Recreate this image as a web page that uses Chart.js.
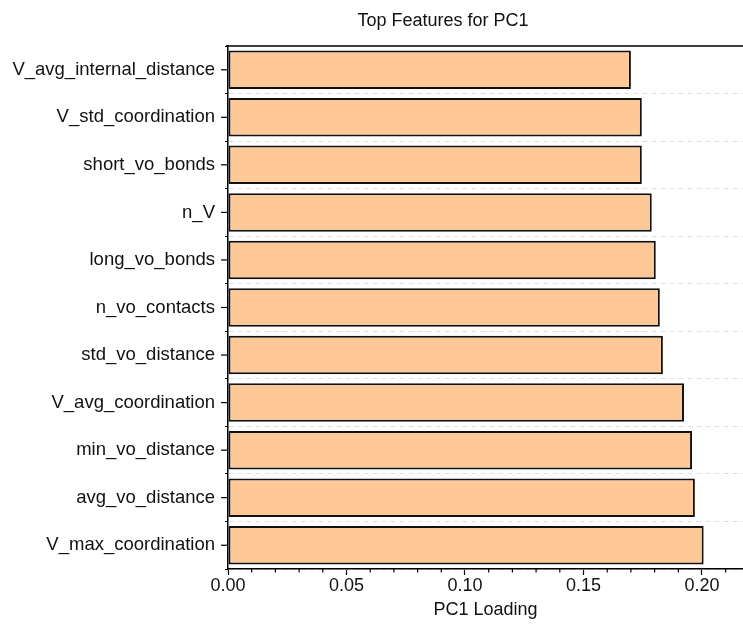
<!DOCTYPE html>
<html>
<head>
<meta charset="utf-8">
<script src="https://cdn.jsdelivr.net/npm/chart.js@4.4.0/dist/chart.umd.min.js"></script>
<style>
    body { margin: 0; background: #fff; }
    #wrap { width: 743px; height: 628px; }
</style>
</head>
<body>
<div id="wrap"><canvas id="pcChart" width="743" height="628"></canvas></div>
<script>
const features = [
    'V_avg_internal_distance',
    'V_std_coordination',
    'short_vo_bonds',
    'n_V',
    'long_vo_bonds',
    'n_vo_contacts',
    'std_vo_distance',
    'V_avg_coordination',
    'min_vo_distance',
    'avg_vo_distance',
    'V_max_coordination'
];
const loadings = [0.170, 0.1746, 0.1746, 0.1788, 0.1805, 0.1822, 0.1835, 0.1924, 0.1958, 0.1970, 0.2007];
const xTicks = [0, 0.05, 0.10, 0.15, 0.20];
const minorTicks = [0.01, 0.02, 0.03, 0.04, 0.06, 0.07, 0.08, 0.09, 0.11, 0.12, 0.13, 0.14, 0.16, 0.17, 0.18, 0.19, 0.21];

const fontFamily = '"Liberation Sans", Arial, sans-serif';

// extra axis bits: top frame, centre ticks on y, minor ticks on x, title
const extras = {
    id: 'extras',
    afterDraw(chart) {
        const ctx = chart.ctx;
        const area = chart.chartArea;
        const xs = chart.scales.x;
        const ys = chart.scales.y;
        ctx.save();
        ctx.strokeStyle = '#000';
        ctx.lineWidth = 1.5;
        ctx.beginPath();
        ctx.moveTo(area.left - 2, area.top);
        ctx.lineTo(area.right, area.top);
        ctx.stroke();

        ctx.lineWidth = 1.2;
        features.forEach((f, i) => {
            const y = ys.getPixelForValue(i);
            ctx.beginPath();
            ctx.moveTo(area.left - 7, y);
            ctx.lineTo(area.left, y);
            ctx.stroke();
        });
        minorTicks.forEach(v => {
            const x = xs.getPixelForValue(v);
            ctx.beginPath();
            ctx.moveTo(x, area.bottom);
            ctx.lineTo(x, area.bottom + 3.5);
            ctx.stroke();
        });

        ctx.fillStyle = '#111';
        ctx.font = '18px ' + fontFamily;
        ctx.textAlign = 'center';
        ctx.textBaseline = 'middle';
        ctx.fillText('Top Features for PC1', 443, 21);
        ctx.restore();
    }
};

new Chart(document.getElementById('pcChart'), {
    type: 'bar',
    data: {
        labels: features,
        datasets: [{
            data: loadings,
            backgroundColor: 'rgb(255, 201, 151)',
            borderColor: '#111',
            borderWidth: 2,
            borderSkipped: false,
            barPercentage: 0.81,
            categoryPercentage: 1
        }]
    },
    options: {
        indexAxis: 'y',
        responsive: false,
        animation: false,
        layout: { padding: { top: 46, right: 0, left: 0, bottom: 0 } },
        plugins: {
            legend: { display: false },
            tooltip: { enabled: false },
            title: { display: false }
        },
        scales: {
            x: {
                min: 0,
                max: 0.2173,
                afterFit: scale => { scale.height = 59; },
                afterBuildTicks: scale => { scale.ticks = xTicks.map(v => ({ value: v })); },
                ticks: {
                    color: '#111',
                    font: { family: fontFamily, size: 18 },
                    padding: 0,
                    maxRotation: 0,
                    autoSkip: false,
                    callback: v => Number(v).toFixed(2)
                },
                grid: {
                    drawOnChartArea: false,
                    drawTicks: true,
                    tickLength: 6,
                    tickColor: '#000',
                    tickWidth: 1.2
                },
                border: { display: true, color: '#000', width: 1.5 },
                title: {
                    display: true,
                    text: 'PC1 Loading',
                    color: '#111',
                    font: { family: fontFamily, size: 18 },
                    padding: { top: 0, bottom: 7 }
                }
            },
            y: {
                afterFit: scale => { scale.width = 228; },
                ticks: {
                    color: '#111',
                    font: { family: fontFamily, size: 18.5 },
                    padding: 10,
                    autoSkip: false
                },
                grid: {
                    offset: true,
                    color: '#dedede',
                    lineWidth: 1,
                    drawTicks: true,
                    tickLength: 3,
                    tickColor: '#000',
                    tickWidth: 1.2
                },
                border: { display: true, color: '#000', width: 1.5, dash: [5, 4] }
            }
        }
    },
    plugins: [extras]
});
</script>
</body>
</html>
